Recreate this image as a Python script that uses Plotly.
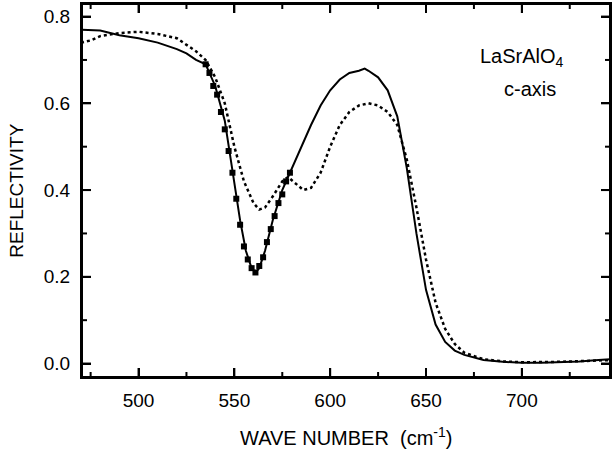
import plotly.graph_objects as go

# measured reflectivity (solid)
wn_meas = [470, 480, 490, 500, 510, 520, 525, 530, 535, 540, 545, 550, 553, 556, 559, 561,
           563, 566, 570, 575, 578, 580, 585, 590, 595, 600, 605, 610, 615, 618, 620, 625,
           630, 635, 640, 645, 650, 655, 660, 665, 670, 680, 690, 700, 710, 720, 730, 740, 746]
r_meas = [0.770, 0.768, 0.757, 0.750, 0.740, 0.725, 0.715, 0.700, 0.690, 0.640, 0.560, 0.420,
          0.330, 0.260, 0.220, 0.210, 0.220, 0.260, 0.330, 0.400, 0.430, 0.450, 0.500, 0.550,
          0.595, 0.630, 0.655, 0.670, 0.675, 0.680, 0.675, 0.660, 0.630, 0.570, 0.450, 0.300,
          0.170, 0.090, 0.050, 0.030, 0.020, 0.008, 0.004, 0.002, 0.002, 0.003, 0.005, 0.008, 0.010]

# calculated reflectivity (dotted)
wn_calc = [470, 475, 480, 490, 500, 510, 520, 530, 535, 540, 545, 550, 555, 560, 563, 566,
           570, 575, 578, 582, 586, 590, 595, 600, 605, 610, 615, 620, 625, 630, 635, 640,
           645, 650, 655, 660, 665, 670, 680, 690, 700, 720, 746]
r_calc = [0.740, 0.745, 0.755, 0.762, 0.765, 0.760, 0.750, 0.720, 0.700, 0.660, 0.600, 0.500,
          0.420, 0.370, 0.355, 0.360, 0.385, 0.420, 0.430, 0.415, 0.400, 0.405, 0.440, 0.500,
          0.550, 0.580, 0.595, 0.600, 0.595, 0.580, 0.550, 0.470, 0.360, 0.240, 0.140, 0.080,
          0.045, 0.025, 0.010, 0.005, 0.003, 0.004, 0.008]

# fit points (squares)
wn_fit = [535, 537, 539, 541, 543, 545, 547, 549, 551, 553, 555, 557, 559, 561, 563, 565,
          567, 569, 571, 573, 575, 577, 579]
r_fit = [0.690, 0.670, 0.640, 0.620, 0.580, 0.540, 0.490, 0.440, 0.380, 0.320, 0.270, 0.240,
         0.220, 0.210, 0.225, 0.245, 0.280, 0.310, 0.340, 0.370, 0.390, 0.420, 0.440]

# axis ticks
x_major = [500, 550, 600, 650, 700]
x_minor = [475, 525, 575, 625, 675, 725]
y_major = [0.0, 0.2, 0.4, 0.6, 0.8]
y_minor = [0.1, 0.3, 0.5, 0.7]

X_RANGE = [470.5, 746]
Y_RANGE = [-0.031, 0.829]
FONT = 'Liberation Sans, Arial, sans-serif'

W, H = 614, 453
ML, MR, MT, MB = 82, 2, 4, 76
PW, PH = W - ML - MR, H - MT - MB

fig = go.Figure()
fig.add_trace(go.Scatter(x=wn_calc, y=r_calc, mode='lines', line=dict(color='black', width=2.5, dash='dot')))
fig.add_trace(go.Scatter(x=wn_meas, y=r_meas, mode='lines', line=dict(color='black', width=2)))
fig.add_trace(go.Scatter(x=wn_fit, y=r_fit, mode='markers',
                         marker=dict(symbol='square', size=6, color='black')))

# inward tick marks on all four sides, built from the tick lists (lengths in px)
x_span = X_RANGE[1] - X_RANGE[0]
y_span = Y_RANGE[1] - Y_RANGE[0]
tx, ty = [], []
for vals, length in ((x_major, 9), (x_minor, 5)):
    d = length / PH * y_span
    for v in vals:
        tx += [v, v, None, v, v, None]
        ty += [Y_RANGE[0], Y_RANGE[0] + d, None, Y_RANGE[1], Y_RANGE[1] - d, None]
for vals, length in ((y_major, 9), (y_minor, 5)):
    d = length / PW * x_span
    for v in vals:
        tx += [X_RANGE[0], X_RANGE[0] + d, None, X_RANGE[1], X_RANGE[1] - d, None]
        ty += [v, v, None, v, v, None]
fig.add_trace(go.Scatter(x=tx, y=ty, mode='lines', line=dict(color='black', width=2),
                         hoverinfo='skip', connectgaps=False))

fig.update_xaxes(range=X_RANGE, tickvals=x_major, showline=True, linecolor='black', linewidth=2,
                 mirror='ticks', ticks='inside', ticklen=9, tickwidth=2, tickcolor='black',
                 showgrid=False, zeroline=False, ticklabelstandoff=5,
                 tickfont=dict(family=FONT, size=19, color='black'))
fig.update_yaxes(range=Y_RANGE, tickvals=y_major, tickformat='.1f', showline=True, linecolor='black',
                 linewidth=2, mirror='ticks', ticks='inside', ticklen=9, tickwidth=2, tickcolor='black',
                 showgrid=False, zeroline=False, ticklabelstandoff=6,
                 tickfont=dict(family=FONT, size=19, color='black'))

# plot frame
fig.add_shape(type='rect', xref='paper', yref='paper', x0=0, x1=1, y0=0, y1=1,
              line=dict(color='black', width=2), layer='above')

# axis titles
fig.add_annotation(x=0.5, y=-0.199, xref='paper', yref='paper', showarrow=False,
                   text='WAVE NUMBER  (cm<sup>-1</sup>)', xanchor='center', yanchor='bottom',
                   font=dict(family=FONT, size=20, color='black'))
fig.add_annotation(x=-0.1245, y=0.5, xref='paper', yref='paper', showarrow=False,
                   text='REFLECTIVITY', textangle=-90, xanchor='center', yanchor='middle',
                   font=dict(family=FONT, size=19, color='black'))

# sample label
fig.add_annotation(x=699.9, y=0.705, showarrow=False, text='LaSrAlO<sub>4</sub>',
                   xanchor='center', yanchor='middle', font=dict(family=FONT, size=20, color='black'))
fig.add_annotation(x=704.1, y=0.634, showarrow=False, text='c-axis',
                   xanchor='center', yanchor='middle', font=dict(family=FONT, size=20, color='black'))

fig.update_layout(width=W, height=H, showlegend=False,
                  paper_bgcolor='white', plot_bgcolor='white',
                  margin=dict(l=ML, r=MR, t=MT, b=MB))

# page body has a default 8px margin; drop it so the figure fills the window exactly
fig.write_html("out.html", config={'displayModeBar': False},
               post_script="document.body.style.margin='0px';")
